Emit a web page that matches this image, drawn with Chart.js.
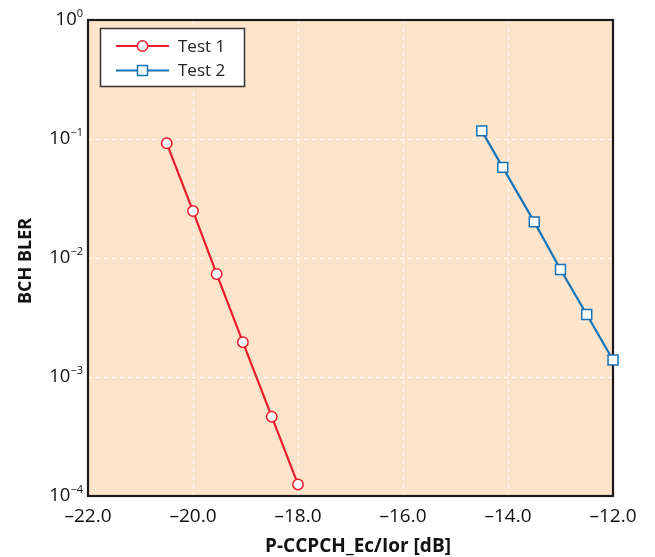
<!DOCTYPE html>
<html>
<head>
<meta charset="utf-8">
<script src="https://cdn.jsdelivr.net/npm/chart.js@4.4.1/dist/chart.umd.min.js"></script>
<style>
html,body{margin:0;padding:0;background:#fff;}
#wrap{width:655px;height:557px;position:relative;}
</style>
</head>
<body>
<div id="wrap"><canvas id="c" width="655" height="557"></canvas></div>
<script>
// ---- data ----
const seriesNames = ['Test 1', 'Test 2'];
const test1X = [-20.5, -20.0, -19.55, -19.05, -18.5, -18.0];
const test1Y = [0.092, 0.0248, 0.00734, 0.00196, 0.000464, 0.000125];
const test2X = [-14.5, -14.1, -13.5, -13.0, -12.5, -12.0];
const test2Y = [0.117, 0.0577, 0.0201, 0.00801, 0.00335, 0.00139];
const xTicks = [-22, -20, -18, -16, -14, -12];
const yTickExponents = [0, -1, -2, -3, -4];
const xTitle = 'P-CCPCH_Ec/Ior [dB]';
const yTitle = 'BCH BLER';

const RED = '#ea1d2c';
const BLUE = '#1673b8';
const PEACH = '#fde4ca';
const FONT = "'Open Sans', 'DejaVu Sans', sans-serif";

function pts(xs, ys){ return xs.map((x,i)=>({x:x, y:ys[i]})); }

const decoPlugin = {
  id: 'deco',
  beforeDraw(chart){
    const a = chart.chartArea, ctx = chart.ctx;
    ctx.save();
    ctx.fillStyle = PEACH;
    ctx.fillRect(a.left, a.top, a.right-a.left, a.bottom-a.top);
    ctx.restore();
  },
  beforeDatasetsDraw(chart){
    const a = chart.chartArea, ctx = chart.ctx;
    ctx.save();
    ctx.strokeStyle = '#1a1a1a';
    ctx.lineWidth = 2.2;
    ctx.strokeRect(a.left, a.top, a.right-a.left, a.bottom-a.top);
    ctx.restore();
  },
  afterDraw(chart){
    const ctx = chart.ctx, ys = chart.scales.y;
    ctx.save();
    // y tick labels with superscript
    yTickExponents.forEach(e=>{
      const py = ys.getPixelForValue(Math.pow(10,e));
      const sup = e < 0 ? '\u2212' + Math.abs(e) : String(e);
      ctx.fillStyle = '#111';
      ctx.font = '11px ' + FONT;
      ctx.textAlign = 'right';
      ctx.textBaseline = 'alphabetic';
      const rx = 83;
      ctx.fillText(sup, rx, py - 3);
      const sw = ctx.measureText(sup).width;
      ctx.font = '18.5px ' + FONT;
      ctx.textBaseline = 'middle';
      ctx.fillText('10', rx - sw, py);
    });
    // axis titles
    ctx.fillStyle = '#111';
    ctx.font = 'bold 19px ' + FONT;
    ctx.textAlign = 'center';
    ctx.textBaseline = 'middle';
    ctx.fillText(xTitle, 358, 547);
    ctx.font = 'bold 18px ' + FONT;
    ctx.save();
    ctx.translate(26, 261);
    ctx.rotate(-Math.PI/2);
    ctx.fillText(yTitle, 0, 0);
    ctx.restore();
    // legend
    const lx = 100.5, ly = 28.5, lw = 144, lh = 58;
    ctx.fillStyle = '#fff';
    ctx.fillRect(lx, ly, lw, lh);
    ctx.strokeStyle = '#333';
    ctx.lineWidth = 1.5;
    ctx.strokeRect(lx, ly, lw, lh);
    chart.data.datasets.forEach((ds, i)=>{
      const yy = i === 0 ? 46 : 70.5;
      ctx.strokeStyle = ds.borderColor;
      ctx.lineWidth = 2.2;
      ctx.beginPath(); ctx.moveTo(116, yy); ctx.lineTo(169, yy); ctx.stroke();
      ctx.fillStyle = '#fff';
      ctx.lineWidth = 1.5;
      if (ds.pointStyle === 'circle') {
        ctx.beginPath(); ctx.arc(142.5, yy, 5.2, 0, Math.PI*2); ctx.fill(); ctx.stroke();
      } else {
        ctx.fillRect(137.5, yy-5, 10, 10); ctx.strokeRect(137.5, yy-5, 10, 10);
      }
      ctx.fillStyle = '#222';
      ctx.font = '17px ' + FONT;
      ctx.textAlign = 'left';
      ctx.textBaseline = 'middle';
      ctx.fillText(ds.label, 178, yy + 1);
    });
    ctx.restore();
  }
};

new Chart(document.getElementById('c'), {
  type: 'scatter',
  data: {
    datasets: [
      { label: seriesNames[0], data: pts(test1X, test1Y), showLine: true,
        borderColor: RED, backgroundColor: '#fff', borderWidth: 2.2,
        pointStyle: 'circle', pointRadius: 5.2, pointBorderWidth: 1.5,
        pointBackgroundColor: '#fff', pointBorderColor: RED, clip: false },
      { label: seriesNames[1], data: pts(test2X, test2Y), showLine: true,
        borderColor: BLUE, backgroundColor: '#fff', borderWidth: 2.2,
        pointStyle: 'rect', pointRadius: 7, pointBorderWidth: 1.5,
        pointBackgroundColor: '#fff', pointBorderColor: BLUE, clip: false }
    ]
  },
  options: {
    responsive: false,
    animation: false,
    layout: { padding: { top: 20, right: 42, bottom: 0, left: 0 } },
    plugins: { legend: { display: false }, tooltip: { enabled: false } },
    scales: {
      x: {
        type: 'linear', min: -22, max: -12,
        afterBuildTicks(s){ s.ticks = xTicks.map(v=>({value:v})); },
        afterFit(s){ s.height = 61; },
        grid: { color: 'rgba(255,255,255,0.95)', lineWidth: 1, drawTicks: false },
        border: { display: false, dash: [4,4] },
        ticks: {
          padding: 9, color: '#111', maxRotation: 0, autoSkip: false,
          font: { family: FONT, size: 19 },
          callback: v => (v < 0 ? '\u2013' : '') + Math.abs(v).toFixed(1)
        }
      },
      y: {
        type: 'logarithmic', min: 1e-4, max: 1,
        afterBuildTicks(s){ s.ticks = yTickExponents.map(e=>({value:Math.pow(10,e)})); },
        afterFit(s){ s.width = 88; },
        grid: { color: 'rgba(255,255,255,0.95)', lineWidth: 1, drawTicks: false },
        border: { display: false, dash: [4,4] },
        ticks: { display: false }
      }
    }
  },
  plugins: [decoPlugin]
});
</script>
</body>
</html>
